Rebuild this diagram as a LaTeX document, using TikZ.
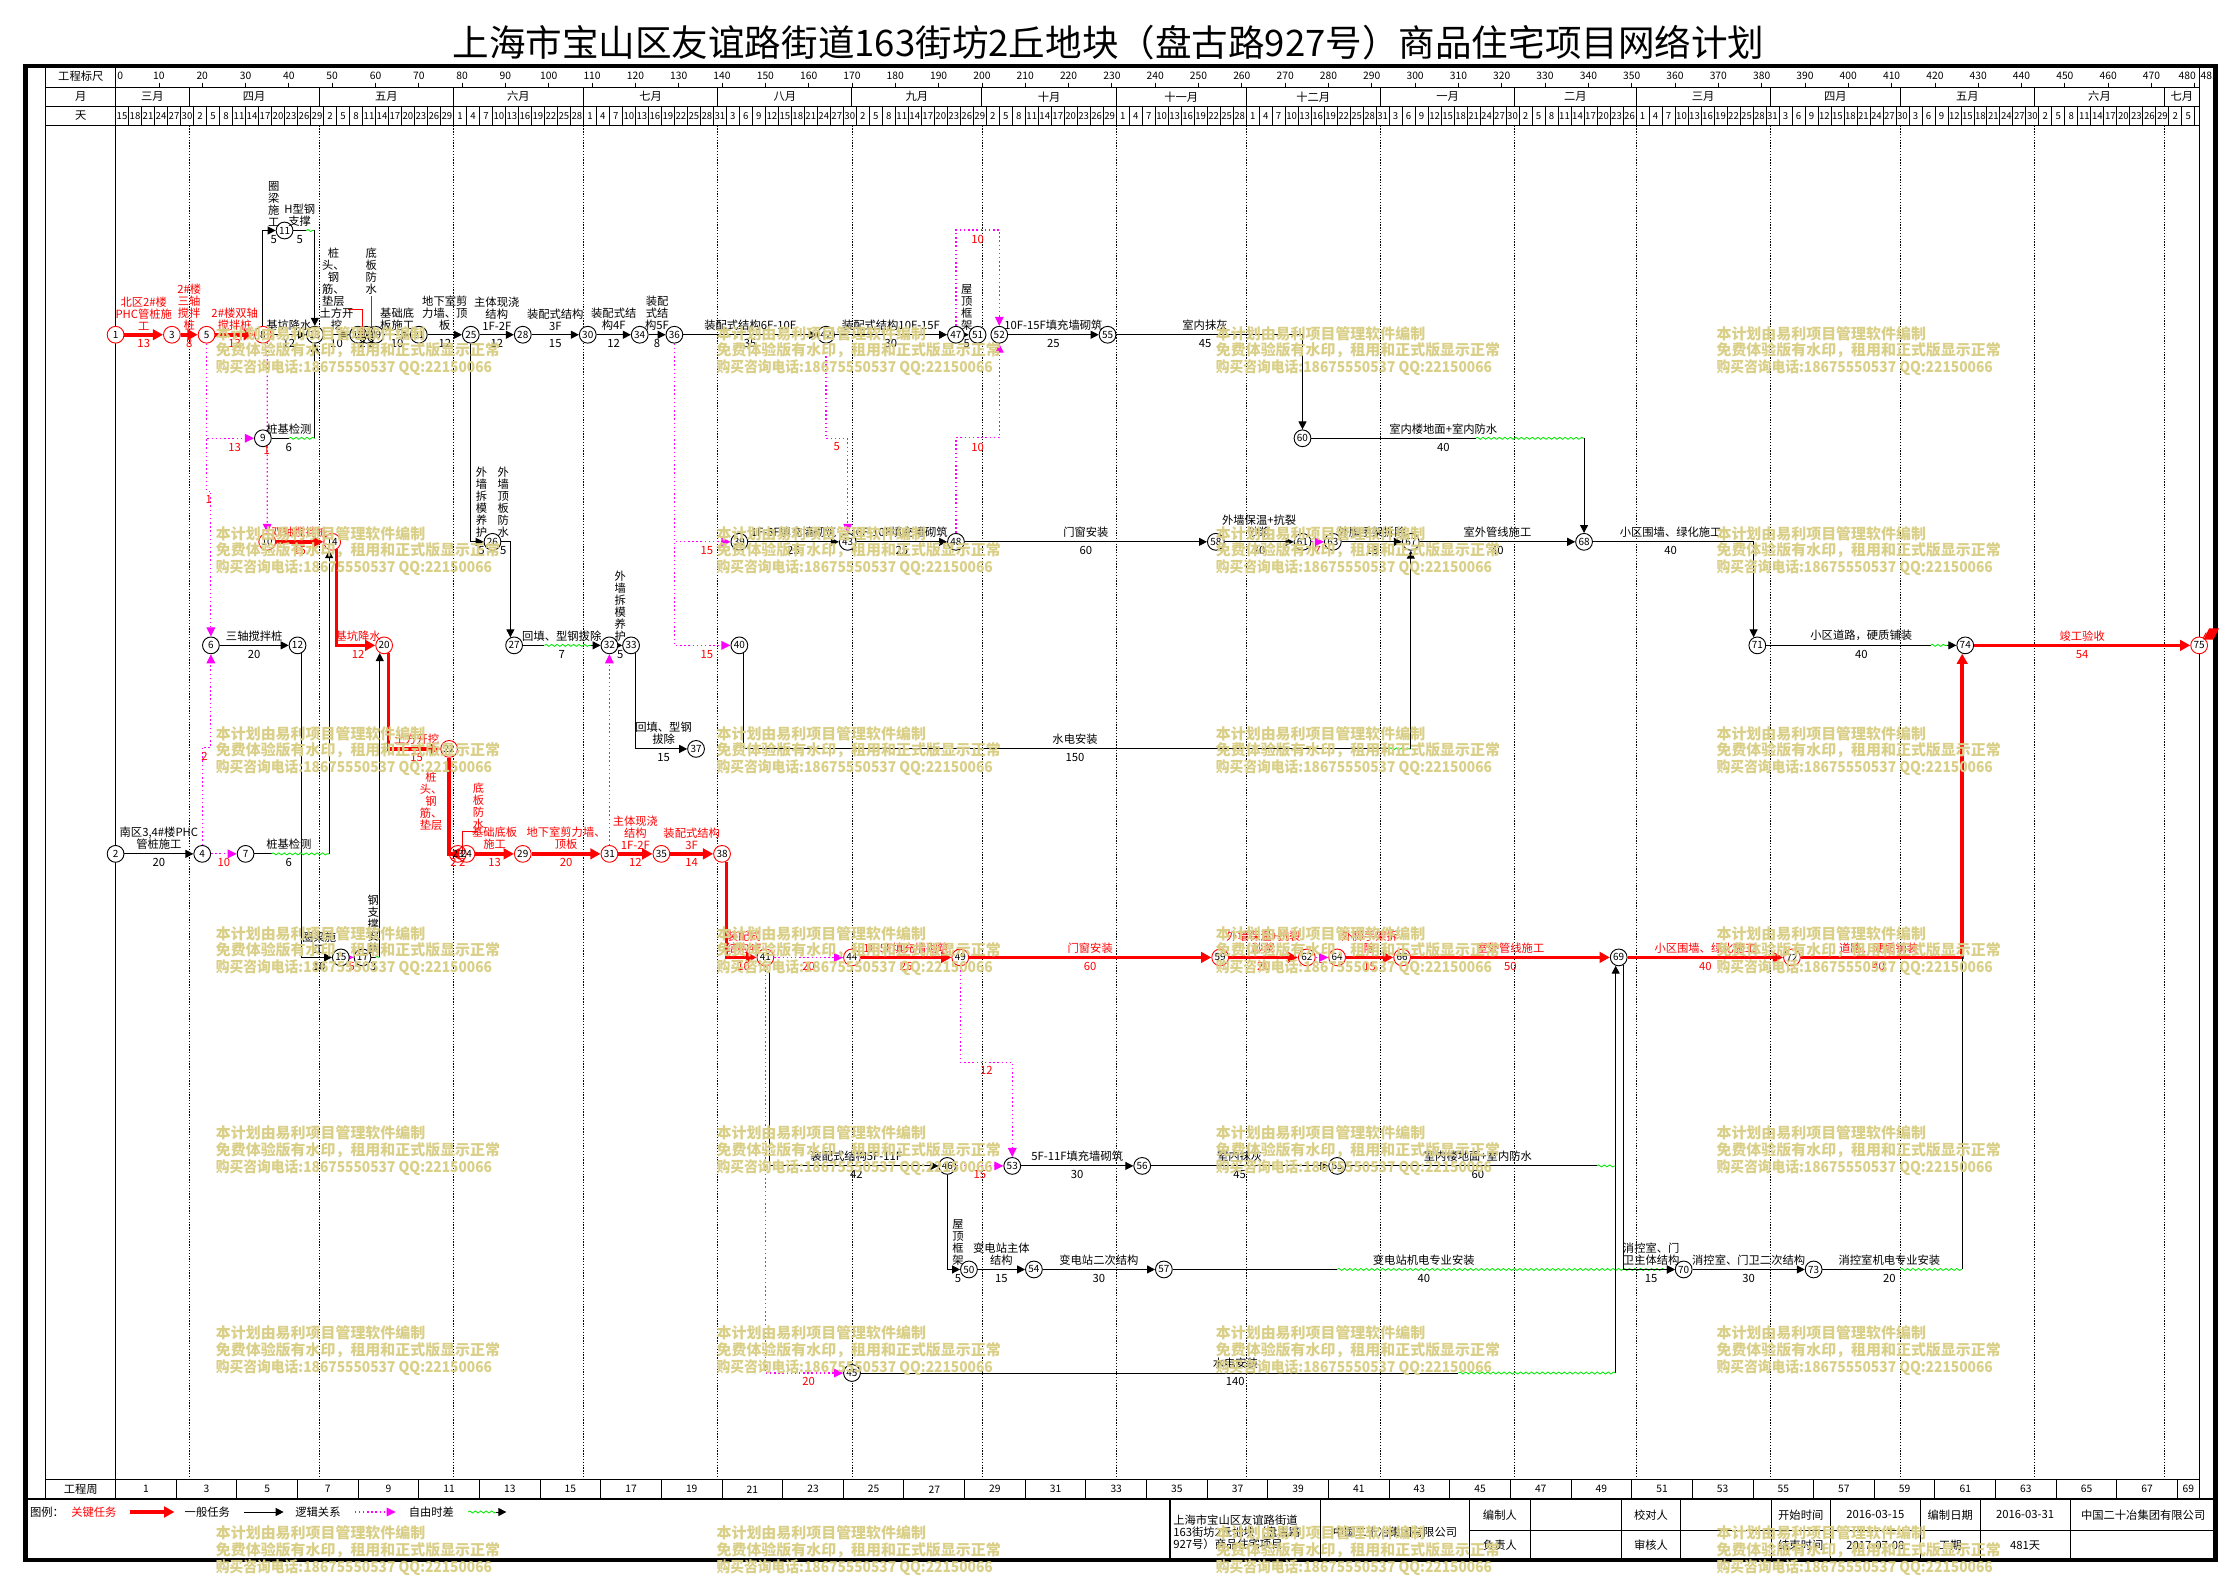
\documentclass[tikz,border=0pt]{standalone}
\usepackage{fontspec}
\usepackage{graphicx}
\setmainfont{Noto Sans CJK SC}
\usetikzlibrary{arrows.meta,decorations.pathmorphing,calc}
\pgfdeclarelayer{grid}
\pgfdeclarelayer{bg}
\pgfdeclarelayer{fg}
\pgfsetlayers{grid,bg,main,fg}
\definecolor{crit}{RGB}{255,0,0}
\definecolor{mag}{RGB}{255,0,255}
\definecolor{wgreen}{RGB}{0,235,0}
\definecolor{wmc}{RGB}{218,207,135}
\newcommand\fl{\fontsize{6.8}{7.2}\selectfont}
\newcommand\fsm{\fontsize{6.2}{6.2}\selectfont}
\newcommand\ND[4]{\node[#4] (n#1) at ({dx(#2)},#3) {#1};}
\newcommand\Lab[5][black]{\path ($(#2)!0.5!(#3)$) node[lab,text=#1] {#4} node[dur,text=#1] {#5};}
\newcommand\Dur[3]{\path ($(#1)!0.5!(#2)$) node[dur,text=crit] {#3};}
\begin{document}
\begin{tikzpicture}[x=0.03cm,y=-0.03cm,
 declare function={dx(\d)=81.5+3.054*\d;},
 nd/.style={circle,draw,fill=white,minimum size=10.1pt,inner sep=0pt,line width=0.55pt,font=\fontsize{6}{6}\selectfont},
 ndr/.style={nd,draw=crit},
 ndo/.style={nd,fill=none},
 ndro/.style={ndr,fill=none},
 ln/.style={line width=0.6pt},
 act/.style={ln,-{Triangle[length=4.8pt,width=4.8pt]}},
 cri/.style={draw=crit,line width=2.2pt,-{Triangle[length=6.2pt,width=6.4pt]}},
 dotl/.style={draw=mag,line width=0.7pt,dash pattern=on 0.9pt off 1.6pt,-{Triangle[length=5.5pt,width=5.2pt]}},
 wav/.style={draw=wgreen,line width=0.5pt,decorate,decoration={snake,amplitude=0.6pt,segment length=3.3pt}},
 lab/.style={font=\fl,align=center,inner sep=0pt,anchor=south,yshift=2.4pt},
 dur/.style={font=\fl,inner sep=0pt,anchor=north,yshift=-2.6pt},
 labm/.style={font=\fl,align=center,inner sep=0pt,anchor=south},
 hd/.style={font=\fl,inner sep=0pt},
 sc/.style={font=\fsm,inner sep=0pt},
 wmk/.style={font=\bfseries\fontsize{9}{9}\selectfont,text=wmc,anchor=west,inner sep=0pt}]
\useasboundingbox (0,0) rectangle (1568,1112);
\begin{pgfonlayer}{grid}
\fill[white] (0,0) rectangle (1568,1112);
\foreach \m in {17,47,78,108,139,170,200,231,261,292,323,351,382,412,443,473}
  \draw[line width=0.45pt,dash pattern=on 0.8pt off 0.9pt] ({dx(\m)},88.5) -- ({dx(\m)},1043);
\end{pgfonlayer}
% title
\node[font=\fontsize{22}{22}\selectfont,inner sep=0pt] (title) at (781.5,30) {上海市宝山区友谊路街道163街坊2丘地块（盘古路927号）商品住宅项目网络计划};
% frame and header
\draw[line width=2.6pt] (18,46.5) rectangle (1562,1100);
\draw[ln] (32,46.5) -- (32,1057);
\draw[ln] (81.5,46.5) -- (81.5,1057);
\draw[ln] (1551,46.5) -- (1551,1057);
\draw[ln] (32,61.5) -- (1551,61.5);
\draw[ln] (32,75) -- (1551,75);
\draw[ln] (32,88.5) -- (1551,88.5);
\draw[ln] (32,1043) -- (1551,1043);
\draw[line width=1.3pt] (18,1057) -- (1562,1057);
\node[hd] at (57,54) {工程标尺};
\node[hd] at (57,68.2) {月};
\node[hd] at (57,81.8) {天};
\node[hd] at (57,1050) {工程周};
\foreach \sd in {10,20,...,480} \draw[line width=0.5pt] ({dx(\sd)},58.3) -- ({dx(\sd)},61.5);
\foreach \sd in {10,20,...,470} \node[sc] at ({dx(\sd)},53.8) {\sd};
\node[sc,anchor=west] at (82.5,53.8) {0};
\node[sc] at (1542,53.8) {480};
\node[sc,anchor=west] at (1551.3,53.8) {481};
\foreach \m in {17,47,78,108,139,170,200,231,261,292,323,351,382,412,443,473}
  \draw[ln] ({dx(\m)},61.5) -- ({dx(\m)},75);
\foreach \ma/\mb/\mn in {0/17/三月,17/47/四月,47/78/五月,78/108/六月,108/139/七月,139/170/八月,170/200/九月,200/231/十月,231/261/十一月,261/292/十二月,292/323/一月,323/351/二月,351/382/三月,382/412/四月,412/443/五月,443/473/六月,473/481/七月}
  \node[hd] at ({dx((\ma+\mb)/2)},68.2) {\mn};
\foreach \dk in {1,...,160} \draw[line width=0.5pt] ({dx(3*\dk)},75) -- ({dx(3*\dk)},88.5);
\foreach \dv [count=\dk from 0] in {15,18,21,24,27,30,
 2,5,8,11,14,17,20,23,26,29, 2,5,8,11,14,17,20,23,26,29,
 1,4,7,10,13,16,19,22,25,28, 1,4,7,10,13,16,19,22,25,28,31,
 3,6,9,12,15,18,21,24,27,30, 2,5,8,11,14,17,20,23,26,29,
 2,5,8,11,14,17,20,23,26,29, 1,4,7,10,13,16,19,22,25,28,
 1,4,7,10,13,16,19,22,25,28,31, 3,6,9,12,15,18,21,24,27,30,
 2,5,8,11,14,17,20,23,26, 1,4,7,10,13,16,19,22,25,28,31,
 3,6,9,12,15,18,21,24,27,30, 3,6,9,12,15,18,21,24,27,30,
 2,5,8,11,14,17,20,23,26,29, 2,5}
  \node[font=\fontsize{5.8}{5.8}\selectfont,inner sep=0pt] at ({dx(3*\dk+1.5)},81.8) {\dv};
% week row
\foreach \wk in {1,...,34} \draw[ln] ({dx(14*\wk)},1043) -- ({dx(14*\wk)},1057);
\foreach \wk in {0,...,34} {
  \pgfmathtruncatemacro\wn{2*\wk+1}
  \pgfmathsetmacro\wc{min(14*\wk+7,(14*\wk+481)/2)}
  \node[sc] at ({dx(\wc)},1050) {\wn};
}
% title block
\draw[line width=1.2pt] (825,1057) -- (825,1100);
\foreach \tx in {931,1036,1079,1143,1185,1248.7,1290.5,1354,1396,1459.6} \draw[ln] (\tx,1057) -- (\tx,1100);
\draw[ln] (1036,1079) -- (1562,1079);
\node[hd,anchor=west,align=left] at (827,1080) {上海市宝山区友谊路街道\\163街坊2丘地块（盘古路\\927号）商品住宅项目};
\node[hd] at (983.5,1080) {中国二十冶集团有限公司};
\node[hd] at (1057.5,1068) {编制人};
\node[hd] at (1057.5,1089.5) {负责人};
\node[hd] at (1164,1068) {校对人};
\node[hd] at (1164,1089.5) {审核人};
\node[hd] at (1269.6,1068) {开始时间};
\node[hd] at (1269.6,1089.5) {结束时间};
\node[hd] at (1322.2,1068) {2016-03-15};
\node[hd] at (1322.2,1089.5) {2017-07-08};
\node[hd] at (1375,1068) {编制日期};
\node[hd] at (1375,1089.5) {工期};
\node[hd] at (1427.8,1068) {2016-03-31};
\node[hd] at (1427.8,1089.5) {481天};
\node[hd] at (1511,1068) {中国二十冶集团有限公司};
% legend
\node[hd,anchor=west] at (21,1066) {图例：};
\node[hd,anchor=west,text=crit] at (50,1066) {关键任务};
\coordinate (lg1) at (92,1066); \coordinate (lg2) at (123,1066);
\draw[cri] (lg1) -- (lg2);
\node[hd,anchor=west] at (130,1066) {一般任务};
\coordinate (lg3) at (172,1066); \coordinate (lg4) at (200,1066);
\draw[act] (lg3) -- (lg4);
\node[hd,anchor=west] at (208,1066) {逻辑关系};
\coordinate (lg5) at (250,1066); \coordinate (lg6) at (279,1066);
\draw[dotl] (lg5) -- (lg6);
\node[hd,anchor=west] at (288,1066) {自由时差};
\coordinate (lg7) at (330,1066); \coordinate (lg8) at (350,1066); \coordinate (lg9) at (357,1066);
\draw[wav] (lg7) -- (lg8); \draw[act] (lg8) -- (lg9);
% nodes
\ND{1}{0}{236}{ndr}
\ND{3}{13}{236}{ndr}
\ND{5}{21}{236}{ndr}
\ND{8}{34}{236}{ndr}
\ND{11}{39}{162.5}{nd}
\ND{9}{34}{309}{nd}
\ND{13}{46}{236}{nd}
\ND{16}{56}{236}{ndo}
\ND{18}{58}{236}{ndo}
\ND{19}{60}{236}{ndo}
\ND{21}{70}{236}{nd}
\ND{25}{82}{236}{nd}
\ND{28}{94}{236}{nd}
\ND{30}{109}{236}{nd}
\ND{34}{121}{236}{nd}
\ND{36}{129}{236}{nd}
\ND{42}{164}{236}{nd}
\ND{47}{194}{236}{nd}
\ND{51}{199}{236}{nd}
\ND{52}{204}{236}{nd}
\ND{55}{229}{236}{nd}
\ND{60}{274}{309}{nd}
\ND{10}{35}{382}{ndr}
\ND{14}{50}{382}{ndr}
\ND{26}{87}{382}{nd}
\ND{39}{144}{382}{nd}
\ND{43}{169}{382}{nd}
\ND{48}{194}{382}{nd}
\ND{58}{254}{382}{nd}
\ND{61}{274}{382}{nd}
\ND{63}{281}{382}{nd}
\ND{67}{299}{382}{nd}
\ND{68}{339}{382}{nd}
\ND{6}{22}{455}{nd}
\ND{12}{42}{455}{nd}
\ND{20}{62}{455}{ndr}
\ND{27}{92}{455}{nd}
\ND{32}{114}{455}{nd}
\ND{33}{119}{455}{nd}
\ND{40}{144}{455}{nd}
\ND{71}{379}{455}{nd}
\ND{74}{427}{455}{nd}
\ND{75}{481}{455}{ndr}
\ND{22}{77}{528}{ndr}
\ND{37}{134}{528}{nd}
\ND{2}{0}{602}{nd}
\ND{4}{20}{602}{nd}
\ND{7}{30}{602}{nd}
\ND{23}{79}{602}{ndro}
\ND{24}{81}{602}{ndro}
\ND{29}{94}{602}{ndr}
\ND{31}{114}{602}{ndr}
\ND{35}{126}{602}{ndr}
\ND{38}{140}{602}{ndr}
\ND{15}{52}{675}{nd}
\ND{17}{57}{675}{nd}
\ND{41}{150}{675}{ndr}
\ND{44}{170}{675}{ndr}
\ND{49}{195}{675}{ndr}
\ND{59}{255}{675}{ndr}
\ND{62}{275}{675}{ndr}
\ND{64}{282}{675}{ndr}
\ND{66}{297}{675}{ndr}
\ND{69}{347}{675}{nd}
\ND{72}{387}{675}{ndr}
\ND{46}{192}{822}{nd}
\ND{53}{207}{822}{nd}
\ND{56}{237}{822}{nd}
\ND{65}{282}{822}{nd}
\ND{50}{197}{895}{nd}
\ND{54}{212}{895}{nd}
\ND{57}{242}{895}{nd}
\ND{70}{362}{895}{nd}
\ND{73}{392}{895}{nd}
\ND{45}{170}{968}{nd}
\fill[crit] ($(n75)+(3,-4)$) -- ++(4,-8) -- ++(7,0) -- ++(-4,8) -- cycle;
% bend / float coordinates
\coordinate (a7) at ({dx(36)},602);
\coordinate (a17) at ({dx(60)},675);
\coordinate (a11) at ({dx(44)},162.5);
\coordinate (a9) at ({dx(40)},309);
\coordinate (a60) at ({dx(314)},309);
\coordinate (a27) at ({dx(99)},455);
\coordinate (b27) at ($(n32.west)+(-6.5,0)$);
\coordinate (a40) at ({dx(294)},528);
\coordinate (a71) at ({dx(419)},455);
\coordinate (b71) at ($(n74.west)+(-6.5,0)$);
\coordinate (a57) at ({dx(282)},895);
\coordinate (b57) at ($(n70.west)+(-6.5,0)$);
\coordinate (a65) at ({dx(342)},822);
\coordinate (a45) at ({dx(310)},968);
\coordinate (a73) at ({dx(412)},895);
\coordinate (y748) at (0,748.5);
\coordinate (l16) at ($(n16)!0.5!(n18)$);
\coordinate (l18) at ($(n18)!0.5!(n19)$);
\coordinate (l23) at ($(n23)!0.5!(n24)$);
\begin{pgfonlayer}{bg}
% critical path
\draw[cri] (n1) -- (n3);
\draw[cri] (n3) -- (n5);
\draw[cri] (n5) -- (n8);
\draw[cri] (n10) -- (n14);
\draw[cri] (n14.300) |- (n20);
\draw[cri] (n20.300) |- (n22);
\draw[cri] (n22) |- (n23);
\draw[cri] (n24) -- (n29);
\draw[cri] (n29) -- (n31);
\draw[cri] (n31) -- (n35);
\draw[cri] (n35) -- (n38);
\draw[cri] (n38.300) |- (n41);
\draw[cri] (n44) -- (n49);
\draw[cri] (n49) -- (n59);
\draw[cri] (n59) -- (n62);
\draw[cri] (n64) -- (n66);
\draw[cri] (n66) -- (n69);
\draw[cri] (n69) -- (n72);
\draw[cri] (n72) -| (n74.250);
\draw[cri] (n74) -- (n75);
\draw[crit,line width=0.6pt] (n75.center) -- ++(5,-9);
% logic relations
\draw[dotl] (n8.300) -- (n10.north);
\draw[dotl] (n5) |- (n9);
\draw[dotl] (n5.south) -- ++(0,104) -| (n6.north);
\draw[dotl] (n4.north) -- ++(0,-69) -| (n6.south);
\draw[dotl] (n4) -- (n7);
\draw[dotl] (n15) -- (n17);
\draw[dotl] (n31) -- (n32);
\draw[dotl] (n36) |- (n39);
\draw[dotl] (n36) |- (n40);
\draw[dotl] (n42.south) -- ++(0,67.1) -| (n43.north);
\draw[dotl] (n47.north) -- ++(0,-67.6) -| (n52.north);
\draw[dotl] (n48.north) -- ++(0,-67.1) -| (n52.south);
\draw[dotl] (n41) -- (n44);
\draw[dotl] (n41) |- (n45);
\draw[dotl] (n46) -- (n53);
\draw[dotl] (n49.south) -- ++(0,67.6) -| (n53.north);
\draw[dotl] (n61) -- (n63);
\draw[dotl] (n62) -- (n64);
% general tasks
\draw[act] (n2) -- (n4);
\draw[act] (n6) -- (n12);
\draw[act] (n12.300) |- (n15);
\draw[ln] (n7) -- (a7); \draw[wav] (a7) -- (n14.250 |- n7); \draw[act] (n14.250 |- n7) -- (n14.250);
\draw[ln] (n17) -- (a17); \draw[wav] (a17) -- (n20.240 |- n17); \draw[act] (n20.240 |- n17) -- (n20.240);
\draw[act] (n8) -- (n13);
\draw[act] (n8) |- (n11);
\draw[ln] (n11) -- (a11); \draw[wav] (a11) -- (n13 |- n11); \draw[act] (n13 |- n11) -- (n13);
\draw[ln] (n9) -- (a9); \draw[wav] (a9) -- (n13 |- n9); \draw[act] (n13 |- n9) -- (n13);
\draw[act] (n13) -- (n16);
\draw[act] (n19) -- (n21);
\draw[act] (n21) -- (n25);
\draw[act] (n25) -- (n28);
\draw[act] (n28) -- (n30);
\draw[act] (n30) -- (n34);
\draw[act] (n34) -- (n36);
\draw[act] (n36) -- (n42);
\draw[act] (n42) -- (n47);
\draw[act] (n47) -- (n51);
\draw[act] (n52) -- (n55);
\draw[act] (n55) -| (n60);
\draw[ln] (n60) -- (a60); \draw[wav] (a60) -- (n68 |- n60); \draw[act] (n68 |- n60) -- (n68);
\draw[act] (n25) |- (n26);
\draw[act] (n26) -| (n27.115);
\draw[ln] (n27) -- (a27); \draw[wav] (a27) -- (b27); \draw[act] (b27) -- (n32);
\draw[act] (n32) -- (n33);
\draw[act] (n33.300) |- (n37);
\draw[act] (n39) -- (n43);
\draw[act] (n43) -- (n48);
\draw[act] (n48) -- (n58);
\draw[act] (n58) -- (n61);
\draw[act] (n63) -- (n67);
\draw[act] (n67) -- (n68);
\draw[ln] (n40.300) |- (a40); \draw[wav] (a40) -- (n67 |- a40); \draw[act] (n67 |- a40) -- (n67);
\draw[act] (n68) -| (n71.115);
\draw[ln] (n71) -- (a71); \draw[wav] (a71) -- (b71); \draw[act] (b71) -- (n74);
\draw[act] (n41.300) |- (n46);
\draw[act] (n46) |- (n50);
\draw[act] (n50) -- (n54);
\draw[act] (n54) -- (n57);
\draw[ln] (n57) -- (a57); \draw[wav] (a57) -- (b57); \draw[act] (b57) -- (n70);
\draw[act] (n53) -- (n56);
\draw[act] (n56) -- (n65);
\draw[ln] (n65) -- (a65); \draw[wav] (a65) -- (n69.250 |- n65); \draw[act] (n69.250 |- n65) -- (n69.250);
\draw[ln] (n45) -- (a45); \draw[wav] (a45) -- (n69.250 |- n45); \draw[ln] (n69.250 |- n45) -- (n69.250 |- n65);
\draw[act] (n69.300) |- (n70);
\draw[act] (n70) -- (n73);
\draw[ln] (n73) -- (a73); \draw[wav] (a73) -- (n74.250 |- n73); \draw[ln] (n74.250 |- n73) -- (n74.250 |- n72);
% leaders
\draw[crit,line width=0.5pt] (l16) -- ++(0,-18) -- ++(-10,0);
\draw[crit,line width=0.5pt] (l18) -- ++(0,-27);
\draw[crit,line width=0.5pt] (l23) -- ++(0,-16) -- ++(11,0);
\end{pgfonlayer}
% labels
\Lab[crit]{n1}{n3}{北区2\#楼\\PHC管桩施\\工}{13}
\Lab[crit]{n3}{n5}{2\#楼\\三轴\\搅拌\\桩}{8}
\Lab[crit]{n5}{n8}{2\#楼双轴\\搅拌桩}{13}
\Lab{n8}{n13}{基坑降水}{12}
\Lab{n8 |- n11}{n11}{圈\\梁\\施\\工}{5}
\Lab{n11}{n13 |- n11}{H型钢\\支撑}{5}
\Lab{n9}{n13 |- n9}{桩基检测}{6}
\Dur{n5 |- n9}{n9}{13}
\node[dur,text=crit] at (188,311.5) {1};
\node[dur,text=crit] at ({dx(21.5)},346) {1};
\node[dur,text=crit] at ({dx(20.5)},527) {2};
\Lab{n13}{n16}{土方开\\挖}{10}
\node[labm] at ($(l16)+(-20.5,-20)$) {桩\\头、\\钢\\筋、\\垫层};
\node[dur] at (l16) {2};
\node[labm] at ($(l18)+(0,-28)$) {底\\板\\防\\水};
\node[dur] at (l18) {2};
\Lab{n19}{n21}{基础底\\板施工}{10}
\Lab{n21}{n25}{地下室剪\\力墙、顶\\板}{12}
\Lab{n25}{n28}{主体现浇\\结构\\1F-2F}{12}
\Lab{n28}{n30}{装配式结构\\3F}{15}
\Lab{n30}{n34}{装配式结\\构4F}{12}
\Lab{n34}{n36}{装配\\式结\\构5F}{8}
\Lab{n36}{n42}{装配式结构6F-10F}{35}
\Lab{n42}{n47}{装配式结构10F-15F}{30}
\Lab{n47}{n51}{屋\\顶\\框\\架}{5}
\Dur{n47 |- n11}{n52 |- n11}{10}
\Dur{n48 |- n9}{n52 |- n9}{10}
\Dur{n42 |- n9}{n43 |- n9}{5}
\Lab{n52}{n55}{10F-15F填充墙砌筑}{25}
\Lab{n55}{n60 |- n55}{室内抹灰}{45}
\Lab{n60}{n68 |- n60}{室内楼地面+室内防水}{40}
\Lab[crit]{n10}{n14}{双轴搅拌桩}{15}
\Lab[crit]{n14 |- n20}{n20}{基坑降水}{12}
\Lab[crit]{n20 |- n22}{n22}{土方开挖}{15}
\Lab{n7}{n14 |- n7}{桩基检测}{6}
\Dur{n4}{n7}{10}
\Lab{n2}{n4}{南区3,4\#楼PHC\\管桩施工}{20}
\Lab{n6}{n12}{三轴搅拌桩}{20}
\Lab{n12 |- n15}{n15}{圈梁施\\工}{10}
\Dur{n15}{n17}{5}
\Lab{n17}{n20 |- n17}{钢\\支\\撑\\安\\装}{3}
\Lab{n25 |- n26}{n26}{外\\墙\\拆\\模\\养\\护}{5}
\Lab{n26}{n27 |- n26}{外\\墙\\顶\\板\\防\\水}{5}
\Lab{n27}{n32}{回填、型钢拔除}{7}
\Lab{n32}{n33}{外\\墙\\拆\\模\\养\\护}{5}
\Lab{n33 |- n37}{n37}{回填、型钢\\拔除}{15}
\Dur{n36 |- n39}{n39}{15}
\Dur{n36 |- n40}{n40}{15}
\Lab{n39}{n43}{1F-5F填充墙砌筑}{25}
\Lab{n43}{n48}{6F-10F填充墙砌筑}{25}
\Lab{n48}{n58}{门窗安装}{60}
\Lab{n58}{n61}{外墙保温+抗裂\\砂浆}{20}
\Dur{n61}{n63}{7}
\Lab{n63}{n67}{外脚手架拆除}{18}
\Lab{n67}{n68}{室外管线施工}{40}
\Lab{n68}{n71 |- n68}{小区围墙、绿化施工}{40}
\Lab{n71}{n74}{小区道路，硬质铺装}{40}
\Lab[crit]{n74}{n75}{竣工验收}{54}
\Lab{n40 |- a40}{n67 |- a40}{水电安装}{150}
\node[labm,text=crit] at ($(n22 |- n23)+(-12.7,-16)$) {桩\\头、\\钢\\筋、\\垫层};
\node[dur,text=crit] at ($(n22 |- n23)!0.5!(n23)$) {2};
\node[labm,text=crit] at ($(l23)+(11.5,-17)$) {底\\板\\防\\水};
\node[dur,text=crit] at (l23) {2};
\Lab[crit]{n24}{n29}{基础底板\\施工}{13}
\Lab[crit]{n29}{n31}{地下室剪力墙、\\顶板}{20}
\Lab[crit]{n31}{n35}{主体现浇\\结构\\1F-2F}{12}
\Lab[crit]{n35}{n38}{装配式结构\\3F}{14}
\Lab[crit]{n38 |- n41}{n41}{装配式\\结构4F}{10}
\Dur{n41}{n44}{20}
\Lab[crit]{n44}{n49}{1F-5F填充墙砌筑}{25}
\Lab[crit]{n49}{n59}{门窗安装}{60}
\Lab[crit]{n59}{n62}{外墙保温+抗裂\\砂浆}{20}
\Dur{n62}{n64}{7}
\Lab[crit]{n64}{n66}{外脚手架拆\\除}{15}
\Lab[crit]{n66}{n69}{室外管线施工}{50}
\Lab[crit]{n69}{n72}{小区围墙、绿化施工}{40}
\Lab[crit]{n72}{n74 |- n72}{道路、硬质铺装}{40}
\Lab{n41 |- n46}{n46}{装配式结构5F-11F}{42}
\Dur{n41 |- n45}{n45}{20}
\Dur{n46}{n53}{15}
\Dur{n49 |- y748}{n53 |- y748}{12}
\Lab{n53}{n56}{5F-11F填充墙砌筑}{30}
\Lab{n56}{n65}{室内抹灰}{45}
\Lab{n65}{n69 |- n65}{室内楼地面+室内防水}{60}
\Lab{n46 |- n50}{n50}{屋\\顶\\框\\架}{5}
\Lab{n50}{n54}{变电站主体\\结构}{15}
\Lab{n54}{n57}{变电站二次结构}{30}
\Lab{n57}{n70}{变电站机电专业安装}{40}
\Lab{n69 |- n70}{n70}{消控室、门\\卫主体结构}{15}
\Lab{n70}{n73}{消控室、门卫二次结构}{30}
\Lab{n73}{n74 |- n73}{消控室机电专业安装}{20}
\Lab{n45}{n69 |- n45}{水电安装}{140}
% watermark
\begin{pgfonlayer}{fg}
\foreach \wx in {152,505,857,1210} \foreach \wy in {235,376,517,658,799,940,1081} {
  \node[wmk] at (\wx,\wy) {本计划由易利项目管理软件编制};
  \node[wmk] at (\wx,\wy+12.2) {免费体验版有水印，租用和正式版显示正常};
  \node[wmk] at (\wx,\wy+24.4) {\scalebox{0.92}[1]{购买咨询电话:18675550537 QQ:22150066}};
}
\end{pgfonlayer}
\end{tikzpicture}
\end{document}
